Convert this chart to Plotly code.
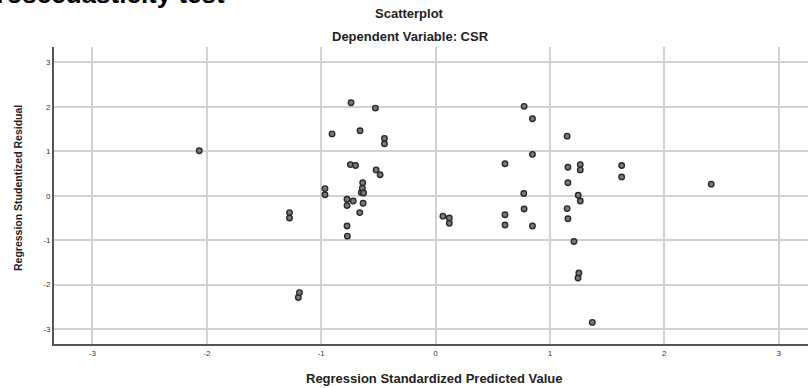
import plotly.graph_objects as go

# Data
pred_x = [-2.066, -1.277, -1.277, -1.20, -1.19, -0.967, -0.967, -0.905, -0.774, -0.774,
          -0.774, -0.771, -0.745, -0.739, -0.72, -0.70, -0.663, -0.66, -0.65, -0.64,
          -0.637, -0.634, -0.63, -0.526, -0.52, -0.485, -0.447, -0.447,
          0.064, 0.12, 0.12, 0.607, 0.607, 0.607, 0.771, 0.774, 0.774, 0.847,
          0.847, 0.847, 1.15, 1.15, 1.157, 1.157, 1.157, 1.21, 1.245, 1.247,
          1.253, 1.265, 1.265, 1.265, 1.37, 1.627, 1.627, 2.41]
resid_y = [1.01, -0.38, -0.50, -2.29, -2.18, 0.16, 0.02, 1.39, -0.08, -0.22,
           -0.68, -0.91, 0.70, 2.09, -0.12, 0.68, -0.38, 1.46, 0.07, 0.17,
           0.29, -0.17, 0.06, 1.97, 0.58, 0.47, 1.29, 1.17,
           -0.46, -0.50, -0.62, 0.72, -0.43, -0.66, 0.05, 2.01, -0.30, 1.73,
           0.93, -0.68, 1.34, -0.29, 0.64, 0.29, -0.52, -1.03, -1.85, 0.01,
           -1.74, 0.70, 0.58, -0.12, -2.85, 0.68, 0.42, 0.26]
tick_vals = [-3, -2, -1, 0, 1, 2, 3]

W, H = 808, 388
L, R, T, B = 54, 0, 47, 44
PW, PH = W - L - R, H - T - B

def px(x):
    return (x - L) / PW

def py(y):
    return (H - B - y) / PH

fig = go.Figure()
fig.add_trace(go.Scatter(
    x=pred_x, y=resid_y, mode="markers",
    marker=dict(size=5.5, color="#7a7a7a", line=dict(color="#2a2a2a", width=1.4)),
    hoverinfo="x+y", showlegend=False,
))

axis_common = dict(
    tickvals=tick_vals, ticktext=[str(v) for v in tick_vals],
    showgrid=True, gridcolor="#d2d2d2", gridwidth=1.5,
    zeroline=False, showline=True, linecolor="#555555", linewidth=2,
    ticks="", tickfont=dict(family="Liberation Sans, Arial", size=8, color="#333333"),
)

fig.update_layout(
    width=W, height=H,
    margin=dict(l=L, r=R, t=T, b=B, pad=0),
    paper_bgcolor="white", plot_bgcolor="white",
    xaxis=dict(range=[-3.336, 3.256], **axis_common),
    yaxis=dict(range=[-3.336, 3.345], **axis_common),
    annotations=[
        dict(text="<b>Heteroscedasticity test</b>", xref="paper", yref="paper",
             x=px(227), y=py(11), xanchor="right", yanchor="bottom", showarrow=False,
             font=dict(family="Liberation Sans, Arial", size=26, color="#000000")),
        dict(text="<b>Scatterplot</b>", xref="paper", yref="paper",
             x=px(409), y=py(13), xanchor="center", yanchor="middle", showarrow=False,
             font=dict(family="Liberation Sans, Arial", size=13, color="#222222")),
        dict(text="<b>Dependent Variable: CSR</b>", xref="paper", yref="paper",
             x=px(410), y=py(37), xanchor="center", yanchor="middle", showarrow=False,
             font=dict(family="Liberation Sans, Arial", size=13, color="#222222")),
        dict(text="<b>Regression Standardized Predicted Value</b>", xref="paper", yref="paper",
             x=px(434), y=py(378), xanchor="center", yanchor="middle", showarrow=False,
             font=dict(family="Liberation Sans, Arial", size=13, color="#222222")),
        dict(text="<b>Regression Studentized Residual</b>", xref="paper", yref="paper",
             x=px(18), y=py(188), xanchor="center", yanchor="middle", showarrow=False,
             textangle=-90,
             font=dict(family="Liberation Sans, Arial", size=10.5, color="#222222")),
    ],
)

fig.write_html("out.html",
               config={"displayModeBar": False},
               post_script="document.body.style.margin='0';document.body.style.padding='0';")
